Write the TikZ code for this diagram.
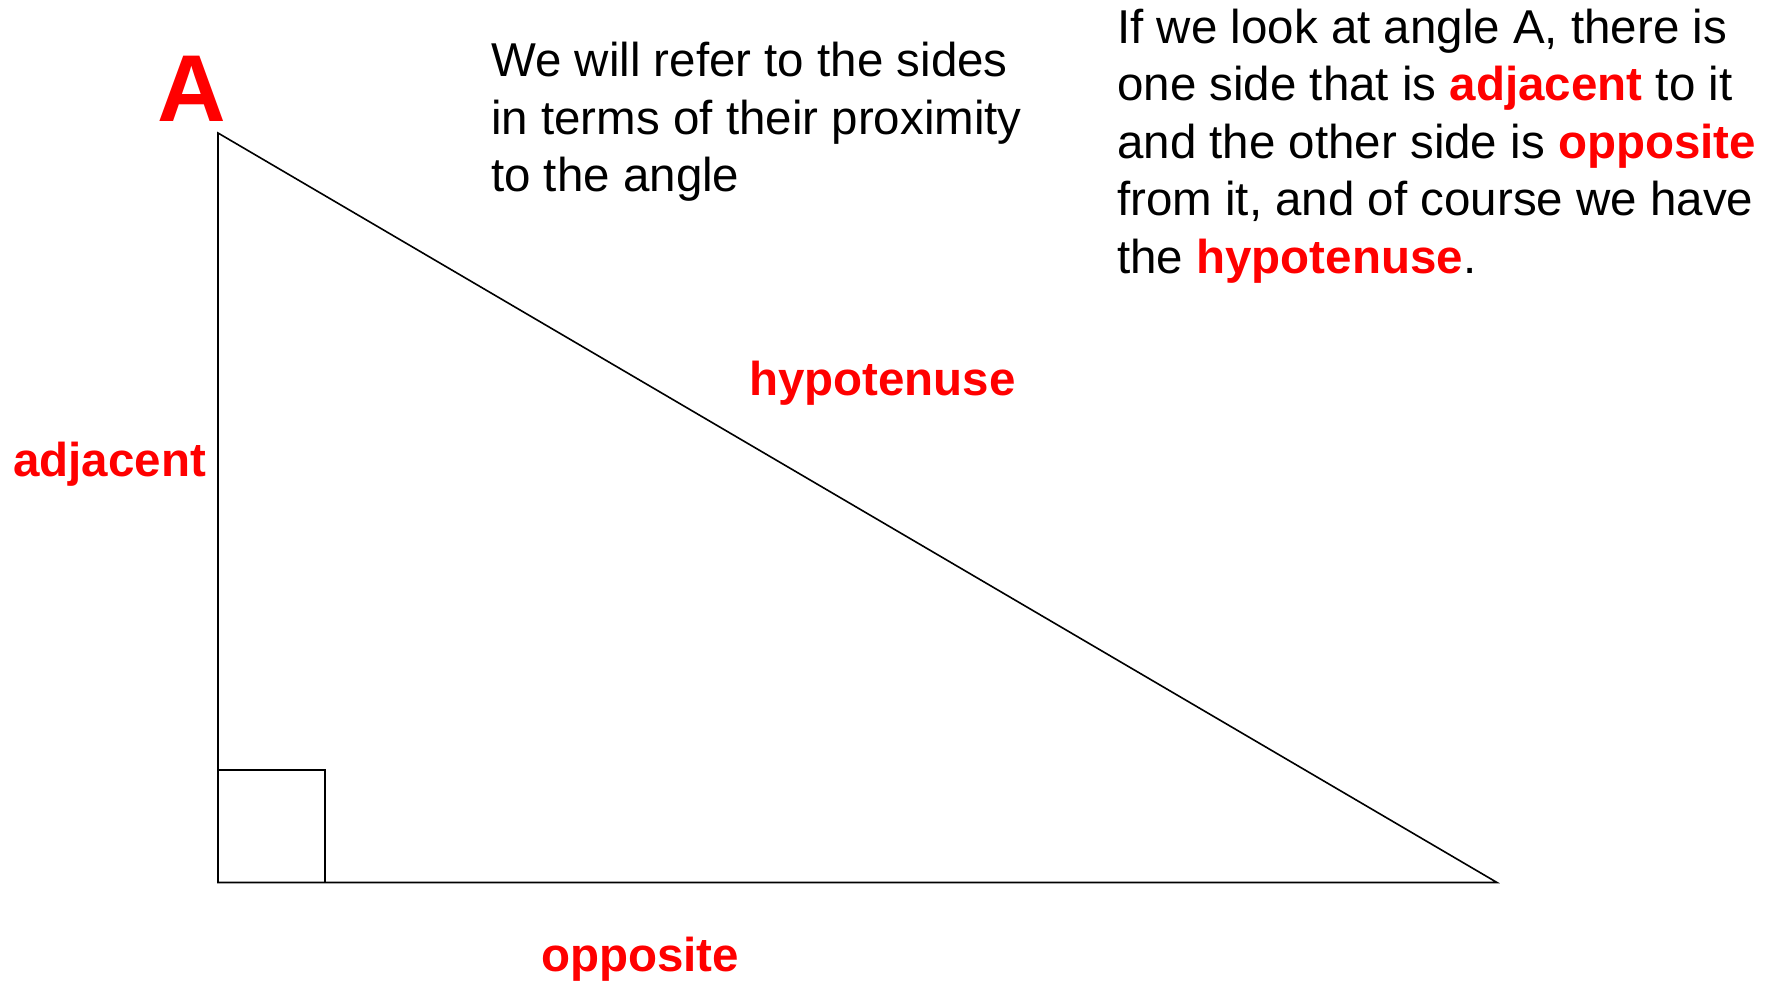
\documentclass[tikz,border=0pt]{standalone}
\usepackage{fontspec}
\setmainfont{Liberation Sans}
\definecolor{hired}{RGB}{255,0,0}
\newcommand{\hl}[1]{\textcolor{hired}{\textbf{#1}}}
\begin{document}
\begin{tikzpicture}[x=1pt,y=-1pt,
  side/.style={line width=1.6pt, line join=miter},
  bodytext/.style={font=\fontsize{47.5}{57.5}\selectfont, inner sep=0pt, align=left, anchor=base west},
  redlabel/.style={font=\fontsize{47.5}{52}\selectfont\bfseries, text=hired, inner sep=0pt, anchor=base west}]
\useasboundingbox[fill=white] (0,0) rectangle (1781,982);
\coordinate (A) at (218,133);
\coordinate (C) at (218,882.5);
\coordinate (B) at (1497,882.5);
\coordinate (S1) at (218,770);
\coordinate (S2) at (325,770);
\coordinate (S3) at (325,882.5);
\draw[side] (A) -- (C) -- (B) -- cycle;
\draw[side] (S1) -- (S2) -- (S3);
\node[font=\fontsize{95}{100}\selectfont\bfseries, text=hired, inner sep=0pt, anchor=base west] (lblA) at (157,121.7) {A};
\node[redlabel] (adj) at (13,476) {adjacent};
\node[redlabel] (hyp) at (749,395) {hypotenuse};
\node[redlabel] (opp) at (541,971) {opposite};
\node[bodytext] (mid) at (491,191.5) {We will refer to the sides\\in terms of their proximity\\to the angle};
\node[bodytext] (right) at (1117,273.3) {If we look at angle A, there is\\one side that is \hl{adjacent} to it\\and the other side is \hl{opposite}\\from it, and of course we have\\the \hl{hypotenuse}.};
\end{tikzpicture}
\end{document}
